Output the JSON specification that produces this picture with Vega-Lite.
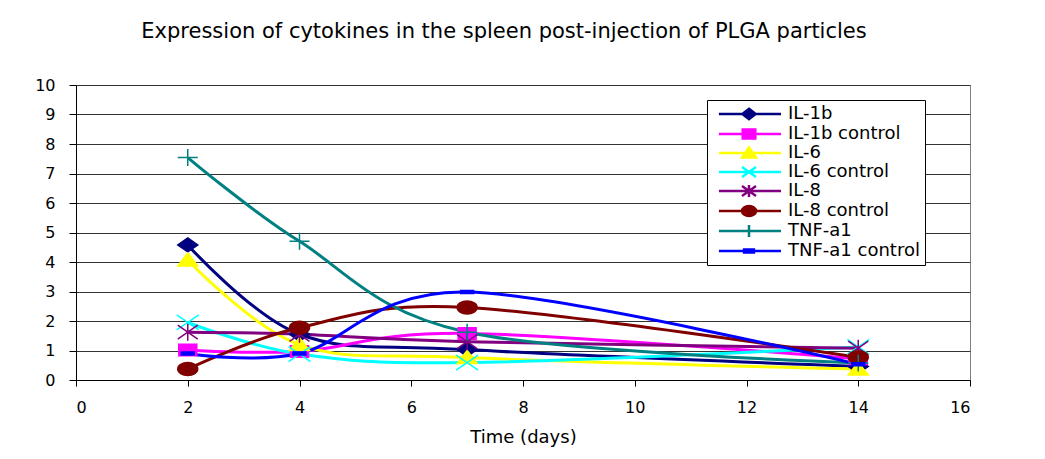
{
  "$schema": "https://vega.github.io/schema/vega-lite/v6.json",
  "width": 894,
  "height": 295,
  "autosize": {"type": "none"},
  "padding": {"left": 76, "top": 85, "right": 75, "bottom": 79},
  "background": "white",
  "title": {"text": "Expression of cytokines in the spleen post-injection of PLGA particles", "anchor": "middle", "frame": "group", "dx": -19, "offset": 18, "baseline": "alphabetic", "font": "DejaVu Sans", "fontSize": 21, "fontWeight": "normal", "color": "black"},
  "config": {
    "view": {"stroke": "#808080", "strokeWidth": 1},
    "axis": {"labelFont": "DejaVu Sans", "labelFontSize": 16, "labelColor": "black", "titleFont": "DejaVu Sans", "titleFontSize": 18, "titleFontWeight": "normal", "titleColor": "black", "domainColor": "black", "tickColor": "black"}
  },
  "data": {"values": [
    {"series": "IL-1b", "day": 2, "value": 4.58}, {"series": "IL-1b", "day": 4, "value": 1.55}, {"series": "IL-1b", "day": 7, "value": 1.03}, {"series": "IL-1b", "day": 14, "value": 0.46},
    {"series": "IL-1b control", "day": 2, "value": 1.02}, {"series": "IL-1b control", "day": 4, "value": 0.97}, {"series": "IL-1b control", "day": 7, "value": 1.58}, {"series": "IL-1b control", "day": 14, "value": 0.72},
    {"series": "IL-6", "day": 2, "value": 4.07}, {"series": "IL-6", "day": 4, "value": 1.2}, {"series": "IL-6", "day": 7, "value": 0.76}, {"series": "IL-6", "day": 14, "value": 0.37},
    {"series": "IL-6 control", "day": 2, "value": 1.95}, {"series": "IL-6 control", "day": 4, "value": 0.88}, {"series": "IL-6 control", "day": 7, "value": 0.59}, {"series": "IL-6 control", "day": 14, "value": 1.12},
    {"series": "IL-8", "day": 2, "value": 1.62}, {"series": "IL-8", "day": 4, "value": 1.55}, {"series": "IL-8", "day": 7, "value": 1.3}, {"series": "IL-8", "day": 14, "value": 1.08},
    {"series": "IL-8 control", "day": 2, "value": 0.37}, {"series": "IL-8 control", "day": 4, "value": 1.77}, {"series": "IL-8 control", "day": 7, "value": 2.46}, {"series": "IL-8 control", "day": 14, "value": 0.77},
    {"series": "TNF-a1", "day": 2, "value": 7.54}, {"series": "TNF-a1", "day": 4, "value": 4.7}, {"series": "TNF-a1", "day": 7, "value": 1.62}, {"series": "TNF-a1", "day": 14, "value": 0.58},
    {"series": "TNF-a1 control", "day": 2, "value": 0.9}, {"series": "TNF-a1 control", "day": 4, "value": 0.9}, {"series": "TNF-a1 control", "day": 7, "value": 2.98}, {"series": "TNF-a1 control", "day": 14, "value": 0.53}
  ]},
  "encoding": {
    "x": {"field": "day", "type": "quantitative", "scale": {"domain": [0, 16], "nice": false},
      "axis": {"values": [0, 2, 4, 6, 8, 10, 12, 14, 16], "title": "Time (days)", "grid": false, "tickSize": 6, "labelPadding": 13, "titlePadding": 13}},
    "y": {"field": "value", "type": "quantitative", "scale": {"domain": [0, 10], "nice": false},
      "axis": {"values": [0, 1, 2, 3, 4, 5, 6, 7, 8, 9, 10], "title": null, "grid": true, "gridColor": "#333333", "gridWidth": 1, "tickSize": 7, "labelPadding": 14}}
  },
  "layer": [
    {"mark": {"type": "line", "interpolate": "cardinal", "strokeWidth": 3},
      "encoding": {
        "color": {"field": "series", "type": "nominal",
          "scale": {"domain": ["IL-1b", "IL-1b control", "IL-6", "IL-6 control", "IL-8", "IL-8 control", "TNF-a1", "TNF-a1 control"],
            "range": ["#000080", "#FF00FF", "#FFFF00", "#00FFFF", "#800080", "#800000", "#008080", "#0000FF"]},
          "legend": {"title": null, "orient": "none", "legendX": 631, "legendY": 15, "padding": 5, "strokeColor": "black", "fillColor": "white",
            "labelFont": "DejaVu Sans", "labelFontSize": 18, "labelColor": "black", "symbolSize": 196, "symbolStrokeWidth": 2.5, "labelOffset": 58, "rowPadding": -2, "symbolLimit": 0,
            "encode": {"symbols": {"update": {
              "shape": {"signal": "['M-0.3,0H8.57M4,-0.75L4.95,0L4,0.75L3.05,0Z','M-0.3,0H8.57M3.1,-0.65H4.9V0.65H3.1Z','M-0.3,0H8.57M4,-0.8L5,0.65H3Z','M-0.3,0H8.57M3,-0.7L5,0.7M3,0.7L5,-0.7','M-0.3,0H8.57M3,-0.7L5,0.7M3,0.7L5,-0.7M4,-0.85V0.85','M-0.3,0H8.57M3,0A1,0.72 0 1,0 5,0A1,0.72 0 1,0 3,0Z','M-0.3,0H8.57M4,-0.85V0.85','M-0.3,0H8.57M3.3,-0.2H4.7V0.2H3.3Z'][indexof(['IL-1b','IL-1b control','IL-6','IL-6 control','IL-8','IL-8 control','TNF-a1','TNF-a1 control'], datum.value)]"},
              "fill": {"scale": "color", "field": "value"},
              "stroke": {"scale": "color", "field": "value"},
              "opacity": {"value": 1}
            }}}}
        }
      }},
    {"mark": {"type": "point", "filled": true, "size": 100, "strokeWidth": 1.5, "opacity": 1},
      "encoding": {
        "shape": {
          "condition": [
            {"test": "datum.series === 'IL-1b'", "value": "M0,-1.4L2,0L0,1.4L-2,0Z"},
            {"test": "datum.series === 'IL-1b control'", "value": "M-1.8,-1.15H1.8V1.15H-1.8Z"},
            {"test": "datum.series === 'IL-6'", "value": "M0,-1.4L2,1.2H-2Z"},
            {"test": "datum.series === 'IL-6 control'", "value": "M-2.2,-1.5L2.2,1.5M-2.2,1.5L2.2,-1.5"},
            {"test": "datum.series === 'IL-8'", "value": "M-2,-1.4L2,1.4M-2,1.4L2,-1.4M0,-1.7V1.7"},
            {"test": "datum.series === 'IL-8 control'", "value": "M-2,0A2,1.3 0 1,0 2,0A2,1.3 0 1,0 -2,0Z"},
            {"test": "datum.series === 'TNF-a1'", "value": "M-2,0H2M0,-1.7V1.7"}
          ],
          "value": "M-1.3,-0.3H1.3V0.3H-1.3Z"
        },
        "fill": {"field": "series", "type": "nominal", "legend": null,
          "scale": {"domain": ["IL-1b", "IL-1b control", "IL-6", "IL-6 control", "IL-8", "IL-8 control", "TNF-a1", "TNF-a1 control"],
            "range": ["#000080", "#FF00FF", "#FFFF00", "#00FFFF", "#800080", "#800000", "#008080", "#0000FF"]}},
        "stroke": {"field": "series", "type": "nominal", "legend": null,
          "scale": {"domain": ["IL-1b", "IL-1b control", "IL-6", "IL-6 control", "IL-8", "IL-8 control", "TNF-a1", "TNF-a1 control"],
            "range": ["#000080", "#FF00FF", "#FFFF00", "#00FFFF", "#800080", "#800000", "#008080", "#0000FF"]}}
      }}
  ]
}
